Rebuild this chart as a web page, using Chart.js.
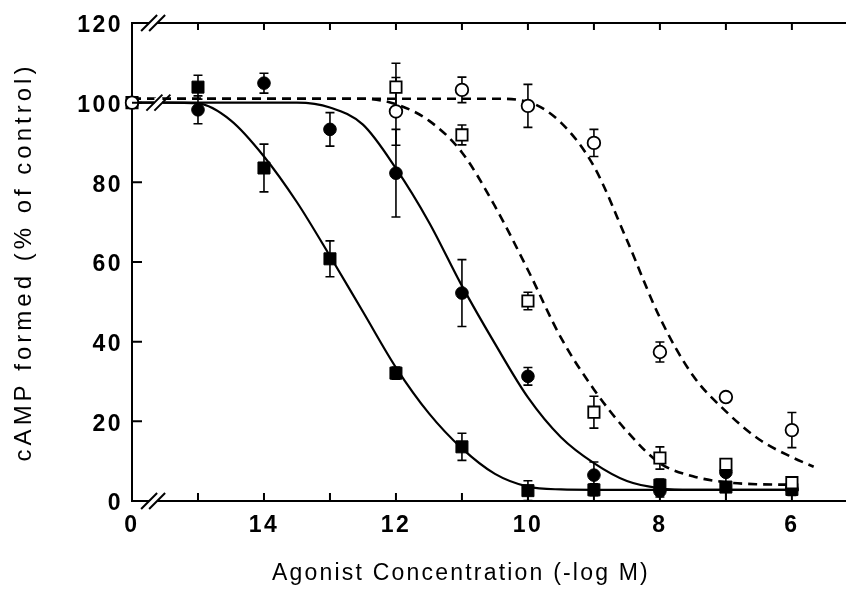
<!DOCTYPE html>
<html>
<head>
<meta charset="utf-8">
<script src="https://cdn.jsdelivr.net/npm/chart.js@4/dist/chart.umd.min.js"></script>
<style>
  html, body { margin: 0; padding: 0; background: #fff; }
  #wrap { width: 846px; height: 589px; }
</style>
</head>
<body>
<div id="wrap"><canvas id="c" width="846" height="589"></canvas></div>
<script>
// Agonist concentration, -log M (16 stands for the untreated control, labelled "0")
const filledSquareX = [15, 14, 13, 12, 11, 10, 9, 8, 7, 6];
const filledSquareY = [103.9, 83.6, 60.8, 32.1, 13.6, 2.6, 2.8, 4.0, 3.5, 2.9];
const filledSquareErr = [3, 6, 4.5, 1.5, 3.4, 2.5, 1.5, 1.5, 3.5, 1.5];

const filledCircleX = [15, 14, 13, 12, 11, 10, 9, 8, 7, 6];
const filledCircleY = [98.2, 104.9, 93.3, 82.3, 52.2, 31.3, 6.5, 2.5, 7.2, 3.0];
const filledCircleErr = [3.5, 2.5, 4.2, 11, 8.4, 2.2, 3.3, 1.5, 1, 1];

const openSquareX = [16, 12, 11, 10, 9, 8, 7, 6];
const openSquareY = [100, 103.9, 91.9, 50.2, 22.3, 10.8, 9.2, 4.6];
const openSquareErr = [0, 6, 2.5, 2.2, 4, 2.8, 1, 1];

const openCircleX = [16, 12, 11, 10, 9, 8, 7, 6];
const openCircleY = [100, 97.8, 103.2, 99.2, 89.9, 37.4, 26.1, 17.8];
const openCircleErr = [0, 8.5, 3.2, 5.4, 3.4, 2.5, 1, 4.4];

// Fitted concentration-response curves
const fitFilledSquareX = [16, 15.5, 15.0, 14.5, 14.0, 13.5, 13.0, 12.5, 12.0, 11.5, 11.0, 10.5, 10.0, 9.5, 9.0, 5.9];
const fitFilledSquareY = [100, 100, 99.8, 95.5, 86.5, 75, 61.5, 47.5, 33.5, 22, 13.2, 6.8, 3.6, 2.9, 2.8, 2.8];

const fitFilledCircleX = [16, 13.5, 13.0, 12.5, 12.0, 11.5, 11.0, 10.5, 10.0, 9.5, 9.0, 8.5, 8.0, 7.5, 5.9];
const fitFilledCircleY = [100, 100, 98.8, 94.5, 83.5, 70, 54, 39.5, 26, 16, 9.5, 5, 3.2, 2.8, 2.8];

const fitOpenSquareX = [16, 12.5, 12.0, 11.5, 11.0, 10.5, 10.0, 9.5, 9.0, 8.5, 8.0, 7.5, 7.0, 6.5, 6.0];
const fitOpenSquareY = [101, 101, 99.6, 95.5, 87.5, 74, 58, 41, 28, 17.5, 9.5, 6.2, 4.7, 4.2, 4.1];

const fitOpenCircleX = [16, 10.5, 10.0, 9.5, 9.0, 8.5, 8.0, 7.5, 7.0, 6.5, 6.0, 5.67];
const fitOpenCircleY = [101, 101, 100.2, 95, 84, 65.5, 46, 31.5, 22.5, 15.5, 11, 8.6];

// Axis ticks
const xLabelValues = [16, 14, 12, 10, 8, 6];
const xMarkValues = [15, 14, 13, 12, 11, 10, 9, 8, 7, 6];
const yTickValues = [0, 20, 40, 60, 80, 100, 120];

const pts = (xs, ys) => xs.map((x, i) => ({ x: x, y: ys[i] }));
const FONT = '"Liberation Sans", Arial, Helvetica, sans-serif';

const markerSets = [
  { data: pts(openCircleX, openCircleY), err: openCircleErr, pointStyle: 'circle', pointRadius: 6.3, backgroundColor: '#fff', borderColor: '#000', borderWidth: 1.8 },
  { data: pts(openSquareX, openSquareY), err: openSquareErr, pointStyle: 'rect', pointRadius: 8, backgroundColor: '#fff', borderColor: '#000', borderWidth: 1.8 },
  { data: pts(filledCircleX, filledCircleY), err: filledCircleErr, pointStyle: 'circle', pointRadius: 6.3, backgroundColor: '#000', borderColor: '#000', borderWidth: 1 },
  { data: pts(filledSquareX, filledSquareY), err: filledSquareErr, pointStyle: 'rect', pointRadius: 8.5, backgroundColor: '#000', borderColor: '#000', borderWidth: 1 }
].map(d => Object.assign({ showLine: false, clip: false, pointHoverRadius: d.pointRadius }, d));

const fitLine = (xs, ys, dashed) => ({
  data: pts(xs, ys),
  showLine: true,
  pointRadius: 0,
  borderColor: '#000',
  borderWidth: dashed ? 2.6 : 2.2,
  borderDash: dashed ? [9, 6] : [],
  cubicInterpolationMode: 'monotone',
  fill: false
});

const curveSets = [
  fitLine(fitFilledSquareX, fitFilledSquareY, false),
  fitLine(fitFilledCircleX, fitFilledCircleY, false),
  fitLine(fitOpenSquareX, fitOpenSquareY, true),
  fitLine(fitOpenCircleX, fitOpenCircleY, true)
];

// Error bars, frame, inward ticks and axis breaks
const decorations = {
  id: 'decorations',
  afterUpdate(chart) {
    const wrap = (scale, px, shift) => {
      if (!scale || scale._spaced) return;
      const orig = scale.drawTitle;
      scale.drawTitle = function () {
        const ctx = this.ctx;
        ctx.save();
        ctx.letterSpacing = px;
        ctx.translate(shift, 0);
        orig.apply(this, arguments);
        ctx.restore();
      };
      scale._spaced = true;
    };
    wrap(chart.scales.y, '4px', 0);
    wrap(chart.scales.x, '2.2px', -28);
  },
  beforeDraw(chart) {
    chart.ctx.letterSpacing = '2.5px';
  },
  beforeDatasetsDraw(chart) {
    const { ctx, scales: { x, y } } = chart;
    ctx.save();
    ctx.strokeStyle = '#000';
    ctx.lineWidth = 1.6;
    markerSets.forEach(set => {
      set.data.forEach((p, i) => {
        const e = set.err[i];
        if (!e) return;
        const px = x.getPixelForValue(p.x);
        const top = y.getPixelForValue(p.y + e);
        const bot = y.getPixelForValue(Math.max(0, p.y - e));
        ctx.beginPath();
        ctx.moveTo(px, top); ctx.lineTo(px, bot);
        ctx.moveTo(px - 4.5, top); ctx.lineTo(px + 4.5, top);
        ctx.moveTo(px - 4.5, bot); ctx.lineTo(px + 4.5, bot);
        ctx.stroke();
      });
    });
    ctx.restore();
  },
  afterDraw(chart) {
    const { ctx, chartArea: a, scales: { x, y } } = chart;
    ctx.save();
    ctx.strokeStyle = '#000';
    ctx.lineWidth = 2;
    ctx.lineCap = 'butt';
    // top frame line
    ctx.beginPath();
    ctx.moveTo(a.left, a.top); ctx.lineTo(a.right, a.top);
    ctx.stroke();
    // inward ticks on bottom and top
    ctx.beginPath();
    xMarkValues.forEach(v => {
      const px = x.getPixelForValue(v);
      ctx.moveTo(px, a.bottom); ctx.lineTo(px, a.bottom - 8);
      ctx.moveTo(px, a.top); ctx.lineTo(px, a.top + 7);
    });
    // inward ticks on the left
    yTickValues.forEach(v => {
      if (v === 0) return;
      const py = y.getPixelForValue(v);
      ctx.moveTo(a.left, py); ctx.lineTo(a.left + 10, py);
    });
    ctx.stroke();
    // axis breaks: "//" marks
    const brk = (cx, cy) => {
      ctx.fillStyle = '#fff';
      ctx.fillRect(cx - 4, cy - 5, 8, 10);
      ctx.beginPath();
      [-4, 4].forEach(dx => {
        ctx.moveTo(cx + dx - 8, cy + 8);
        ctx.lineTo(cx + dx + 8, cy - 8);
      });
      ctx.lineWidth = 2;
      ctx.stroke();
    };
    const bx = x.getPixelForValue(15.68);
    brk(bx, a.top);
    brk(bx, a.bottom);
    brk(x.getPixelForValue(15.6), y.getPixelForValue(100));
    ctx.restore();
  }
};

new Chart(document.getElementById('c'), {
  type: 'scatter',
  data: { datasets: markerSets.concat(curveSets) },
  options: {
    responsive: false,
    devicePixelRatio: 1,
    animation: false,
    events: [],
    layout: { autoPadding: false, padding: { top: 23, right: 0, bottom: 0, left: 0 } },
    plugins: { legend: { display: false }, tooltip: { enabled: false } },
    scales: {
      x: {
        type: 'linear',
        reverse: true,
        min: 5.18,
        max: 16,
        afterBuildTicks: s => { s.ticks = xLabelValues.map(v => ({ value: v })); },
        afterFit: s => { s.height = 88; s.paddingLeft = 0; s.paddingRight = 0; },
        grid: { display: false, drawTicks: false },
        border: { display: true, color: '#000', width: 2 },
        ticks: {
          padding: 11,
          color: '#000',
          font: { family: FONT, size: 23, weight: 'bold' },
          maxRotation: 0,
          autoSkip: false,
          callback: v => (v === 16 ? '0' : String(v))
        },
        title: {
          display: true,
          text: 'Agonist Concentration (-log M)',
          color: '#000',
          font: { family: FONT, size: 23 },
          padding: { top: 0, bottom: 2 }
        }
      },
      y: {
        type: 'linear',
        min: 0,
        max: 120,
        afterBuildTicks: s => { s.ticks = yTickValues.map(v => ({ value: v })); },
        afterFit: s => { s.width = 132; s.paddingTop = 0; s.paddingBottom = 0; },
        grid: { display: false, drawTicks: false },
        border: { display: true, color: '#000', width: 2 },
        ticks: {
          padding: 9,
          labelOffset: 3,
          color: '#000',
          font: { family: FONT, size: 23, weight: 'bold' }
        },
        title: {
          display: true,
          text: 'cAMP formed (% of control)',
          color: '#000',
          font: { family: FONT, size: 24 },
          padding: { top: 10, bottom: 0 }
        }
      }
    }
  },
  plugins: [decorations]
});
</script>
</body>
</html>
